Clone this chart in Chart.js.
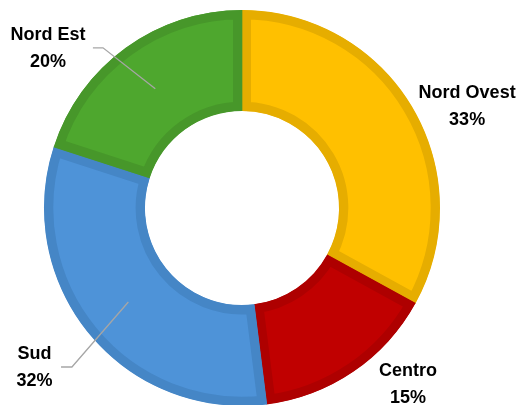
<!DOCTYPE html>
<html>
<head>
<meta charset="utf-8">
<script src="https://cdn.jsdelivr.net/npm/chart.js@4/dist/chart.umd.min.js"></script>
<style>
  html, body { margin: 0; padding: 0; background: #ffffff; overflow: hidden; }
  #wrap { width: 519px; height: 405px; overflow: hidden; }
  canvas { display: block; }
</style>
</head>
<body>
<div id="wrap"><canvas id="c" width="519" height="420"></canvas></div>
<script>
// ---- data ----
const categories = ['Nord Ovest', 'Centro', 'Sud', 'Nord Est'];
const shares = [33, 15, 32, 20];
const percentLabels = ['33%', '15%', '32%', '20%'];

// ---- styles ----
const fillColors = ['#FFC000', '#C00000', '#4E93D8', '#4EA72E'];
const edgeColors = ['#E6AD00', '#AE0000', '#4586C6', '#47972A'];

// label placement, relative to centre in units of outer radius (label block centre)
const labelPlacement = [
  { dx: 1.137, dy: -0.515, leader: null },
  { dx: 0.838, dy: 0.889, leader: null },
  { dx: -1.048, dy: 0.803, leader: { elbow: [-0.859, 0.803], end: [-0.914, 0.803] } },
  { dx: -0.98, dy: -0.808, leader: { elbow: [-0.702, -0.809], end: [-0.753, -0.809] } }
];

const labelPlugin = {
  id: 'outerLabels',
  afterDatasetsDraw(chart) {
    const ctx = chart.ctx;
    const meta = chart.getDatasetMeta(0);
    meta.data.forEach((arc, i) => {
      const p = arc.getProps(['x', 'y', 'startAngle', 'endAngle', 'innerRadius', 'outerRadius'], true);
      const R = p.outerRadius;
      const place = labelPlacement[i];
      ctx.save();
      if (place.leader) {
        const mid = (p.startAngle + p.endAngle) / 2;
        const rm = (p.innerRadius + p.outerRadius) / 2;
        ctx.strokeStyle = '#A6A6A6';
        ctx.lineWidth = 1.3;
        ctx.beginPath();
        ctx.moveTo(p.x + Math.cos(mid) * rm, p.y + Math.sin(mid) * rm);
        ctx.lineTo(p.x + place.leader.elbow[0] * R, p.y + place.leader.elbow[1] * R);
        ctx.lineTo(p.x + place.leader.end[0] * R, p.y + place.leader.end[1] * R);
        ctx.stroke();
      }
      const cx = p.x + place.dx * R;
      const cy = p.y + place.dy * R;
      ctx.fillStyle = '#000000';
      ctx.font = 'bold 18px "Liberation Sans", Arial, sans-serif';
      ctx.textAlign = 'center';
      ctx.textBaseline = 'middle';
      ctx.fillText(categories[i], cx, cy - 13);
      ctx.fillText(percentLabels[i], cx, cy + 14);
      ctx.restore();
    });
  }
};

new Chart(document.getElementById('c'), {
  type: 'doughnut',
  data: {
    labels: categories,
    datasets: [{
      data: shares,
      backgroundColor: fillColors,
      borderColor: edgeColors,
      borderWidth: 9,
      borderAlign: 'inner',
      borderJoinStyle: 'miter',
      hoverOffset: 0,
      offset: 0
    }]
  },
  options: {
    responsive: false,
    animation: false,
    cutout: '49%',
    layout: { padding: { left: 44, right: 79, top: 10, bottom: 14 } },
    plugins: {
      legend: { display: false },
      tooltip: { enabled: false }
    },
    events: []
  },
  plugins: [labelPlugin]
});
</script>
</body>
</html>
